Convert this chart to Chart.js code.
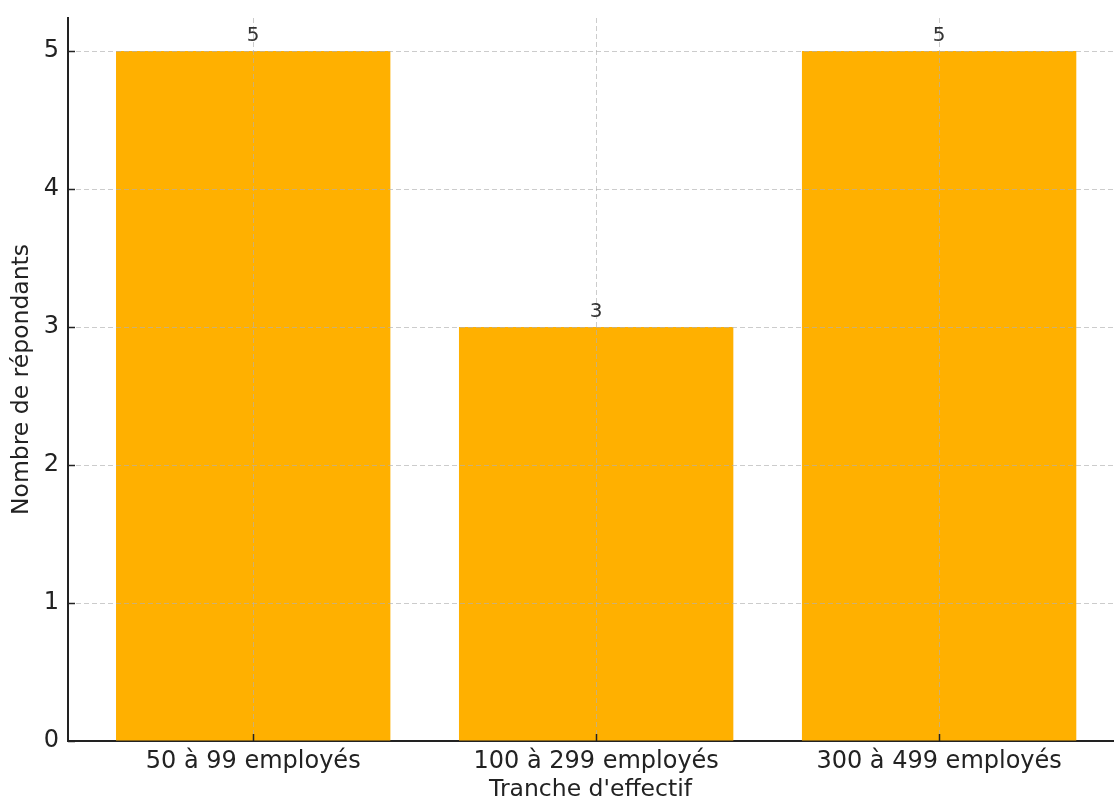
<!DOCTYPE html>
<html lang="fr">
<head>
<meta charset="utf-8">
<title>Répondants par tranche d'effectif</title>
<script src="https://cdn.jsdelivr.net/npm/chart.js@4.4.1/dist/chart.umd.min.js"></script>
<style>
    html, body { margin: 0; padding: 0; background: #fff; }
    #wrap { width: 1114px; height: 802px; }
</style>
</head>
<body>
<div id="wrap"><canvas id="effectifChart" width="1114" height="802"></canvas></div>
<script>
const categories = ['50 à 99 employés', '100 à 299 employés', '300 à 499 employés'];
const respondents = [5, 3, 5];
const yTicks = [0, 1, 2, 3, 4, 5];

const FONT = 'DejaVu Sans';
const INK = '#222222';

// dashed grid on top of the bars, inward tick marks and value labels
const overlay = {
    id: 'overlay',
    afterDatasetsDraw(chart) {
        const { ctx, chartArea: area, scales: { x, y } } = chart;
        ctx.save();
        ctx.strokeStyle = 'rgba(176,176,176,0.65)';
        ctx.lineWidth = 1;
        ctx.setLineDash([5, 3]);
        categories.forEach((_, i) => {
            const px = Math.round(x.getPixelForValue(i)) + 0.5;
            ctx.beginPath();
            ctx.moveTo(px, area.top);
            ctx.lineTo(px, area.bottom);
            ctx.stroke();
        });
        yTicks.forEach((v) => {
            if (v === 0) return;
            const py = Math.round(y.getPixelForValue(v)) + 0.5;
            ctx.beginPath();
            ctx.moveTo(area.left, py);
            ctx.lineTo(area.right, py);
            ctx.stroke();
        });
        ctx.setLineDash([]);

        // ticks point inward
        ctx.strokeStyle = INK;
        ctx.lineWidth = 1.5;
        categories.forEach((_, i) => {
            const px = Math.round(x.getPixelForValue(i)) + 0.5;
            ctx.beginPath();
            ctx.moveTo(px, area.bottom);
            ctx.lineTo(px, area.bottom - 7);
            ctx.stroke();
        });
        yTicks.forEach((v) => {
            const py = Math.round(y.getPixelForValue(v)) + 0.5;
            ctx.beginPath();
            ctx.moveTo(area.left, py);
            ctx.lineTo(area.left + 7, py);
            ctx.stroke();
        });

        ctx.fillStyle = '#333333';
        ctx.font = `20px "${FONT}"`;
        ctx.textAlign = 'center';
        ctx.textBaseline = 'bottom';
        respondents.forEach((v, i) => {
            ctx.fillText(String(v), x.getPixelForValue(i), y.getPixelForValue(v) - 5);
        });
        ctx.restore();
    },
};

new Chart(document.getElementById('effectifChart'), {
    type: 'bar',
    data: {
        datasets: [
            {
                label: 'Nombre de répondants',
                data: respondents.map((v, i) => ({ x: i, y: v })),
                backgroundColor: '#FFB000',
                borderWidth: 0,
                barPercentage: 0.8,
                categoryPercentage: 1,
            },
        ],
    },
    options: {
        responsive: false,
        animation: false,
        layout: { padding: { top: 18, right: 1, left: 0, bottom: 0 } },
        plugins: {
            legend: { display: false },
            tooltip: { enabled: false },
        },
        scales: {
            x: {
                type: 'linear',
                // the right margin is cut short, the left keeps its full gap
                min: -0.54,
                max: 2.507,
                offset: false,
                z: 1,
                afterBuildTicks: (scale) => {
                    scale.ticks = categories.map((_, i) => ({ value: i }));
                },
                afterFit: (scale) => {
                    scale.height = 61;
                    scale.paddingLeft = 0;
                    scale.paddingRight = 0;
                },
                ticks: {
                    callback: (value) => categories[value],
                    font: { family: FONT, size: 24 },
                    color: INK,
                    padding: 6,
                    maxRotation: 0,
                    autoSkip: false,
                },
                grid: { display: true, drawOnChartArea: false, drawTicks: false },
                border: { display: true, color: INK, width: 2 },
                title: {
                    display: true,
                    text: "Tranche d'effectif",
                    font: { family: FONT, size: 23.5, lineHeight: 1 },
                    color: INK,
                    padding: { top: 0, bottom: 0 },
                },
            },
            y: {
                min: 0,
                max: 5.24,
                z: 1,
                afterBuildTicks: (scale) => {
                    scale.ticks = yTicks.map((v) => ({ value: v }));
                },
                afterFit: (scale) => {
                    scale.width = 68;
                    scale.paddingTop = 0;
                    scale.paddingBottom = 0;
                },
                ticks: {
                    font: { family: FONT, size: 24 },
                    color: INK,
                    padding: 9,
                },
                grid: { display: true, drawOnChartArea: false, drawTicks: false },
                border: { display: true, color: INK, width: 2 },
                title: {
                    display: true,
                    text: 'Nombre de répondants',
                    font: { family: FONT, size: 23.5, lineHeight: 1 },
                    color: INK,
                    padding: { top: 10, bottom: 0 },
                },
            },
        },
    },
    plugins: [overlay],
});
</script>
</body>
</html>
